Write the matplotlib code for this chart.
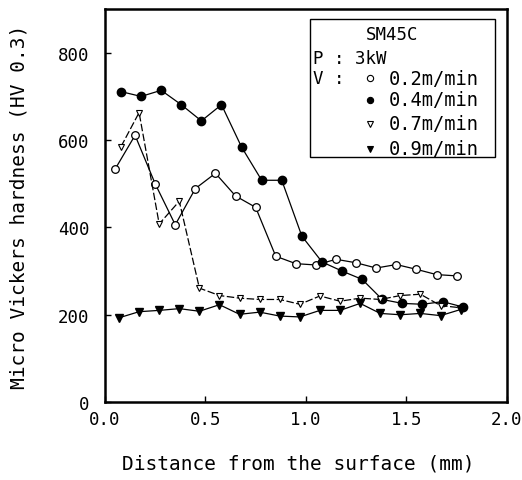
import matplotlib
matplotlib.use("Agg")
import matplotlib.pyplot as plt
from matplotlib.lines import Line2D

# distance from surface (mm) and hardness (HV 0.3) for each scan speed
x_02 = [0.05, 0.15, 0.25, 0.35, 0.45, 0.55, 0.65, 0.75, 0.85, 0.95, 1.05, 1.15, 1.25, 1.35, 1.45, 1.55, 1.65, 1.75]
hv_02 = [533, 611, 500, 406, 489, 524, 472, 446, 334, 317, 314, 327, 319, 307, 315, 304, 292, 289]

x_04 = [0.08, 0.18, 0.28, 0.38, 0.48, 0.58, 0.68, 0.78, 0.88, 0.98, 1.08, 1.18, 1.28, 1.38, 1.48, 1.58, 1.68, 1.78]
hv_04 = [711, 700, 714, 681, 644, 681, 584, 508, 508, 380, 321, 300, 281, 235, 226, 224, 230, 218]

x_07 = [0.08, 0.17, 0.27, 0.37, 0.47, 0.57, 0.67, 0.77, 0.87, 0.97, 1.07, 1.17, 1.27, 1.37, 1.47, 1.57, 1.67, 1.77]
hv_07 = [585, 663, 408, 460, 261, 244, 238, 235, 235, 224, 243, 231, 238, 235, 244, 247, 221, 216]

x_09 = [0.07, 0.17, 0.27, 0.37, 0.47, 0.57, 0.67, 0.77, 0.87, 0.97, 1.07, 1.17, 1.27, 1.37, 1.47, 1.57, 1.67, 1.77]
hv_09 = [193, 207, 210, 214, 208, 223, 201, 206, 197, 195, 210, 210, 226, 203, 200, 203, 198, 212]

speed_labels = ["0.2m/min", "0.4m/min", "0.7m/min", "0.9m/min"]

# wide, evenly spaced lettering like the old plotter font
plt.rcParams["font.family"] = ["DejaVu Sans Mono", "DejaVu Sans"]

fig = plt.figure(figsize=(5.22, 4.81), dpi=100)
ax = fig.add_axes([0.201, 0.162, 0.770, 0.817])

ax.plot(x_02, hv_02, "-", color="black", lw=0.9, marker="o", ms=5.5,
        mfc="white", mec="black", mew=0.9)
ax.plot(x_04, hv_04, "-", color="black", lw=0.9, marker="o", ms=6,
        mfc="black", mec="black")
ax.plot(x_07, hv_07, "--", dashes=(6, 2), color="black", lw=0.9, marker="v", ms=5,
        mfc="white", mec="black", mew=0.8)
ax.plot(x_09, hv_09, "-", color="black", lw=0.9, marker="v", ms=5.5,
        mfc="black", mec="black")

ax.set_xlim(0, 2.0)
ax.set_ylim(0, 900)
ax.set_xticks([0.0, 0.5, 1.0, 1.5, 2.0])
ax.set_xticklabels(["0.0", "0.5", "1.0", "1.5", "2.0"])
ax.set_yticks([0, 200, 400, 600, 800])
ax.tick_params(direction="in", length=4, width=1, labelsize=12.5)
ax.tick_params(axis="y", pad=11)
ax.tick_params(axis="x", pad=6)
for s in ax.spines.values():
    s.set_linewidth(1.8)

ax.set_xlabel("Distance from the surface (mm)", fontsize=14)
ax.set_ylabel("Micro Vickers hardness (HV 0.3)", fontsize=14)
ax.xaxis.set_label_coords(0.48, -0.13)
ax.yaxis.set_label_coords(-0.19, 0.5)

# hand-made legend box in axes coordinates
box = plt.Rectangle((0.51, 0.623), 0.46, 0.352, transform=ax.transAxes,
                    fill=True, facecolor="white", edgecolor="black", lw=1.0, zorder=5)
ax.add_patch(box)
tr = ax.transAxes
ax.text(0.714, 0.936, "SM45C", transform=tr, ha="center", va="center", fontsize=12.5, zorder=6)
ax.text(0.517, 0.875, "P : 3kW", transform=tr, ha="left", va="center", fontsize=12.5, zorder=6)
ax.text(0.517, 0.824, "V :", transform=tr, ha="left", va="center", fontsize=12.5, zorder=6)

styles = [("o", "white", 4.5), ("o", "black", 4.5), ("v", "white", 4), ("v", "black", 4)]
ys = [0.824, 0.769, 0.708, 0.645]
for (m, fc, ms), y, lab in zip(styles, ys, speed_labels):
    ax.add_line(Line2D([0.659], [y], transform=tr, marker=m, ms=ms, mfc=fc,
                       mec="black", mew=0.8, ls="none", zorder=6))
    ax.text(0.705, y, lab, transform=tr, ha="left", va="center", fontsize=13.5, zorder=6)

fig.savefig("out.png", dpi=100)
